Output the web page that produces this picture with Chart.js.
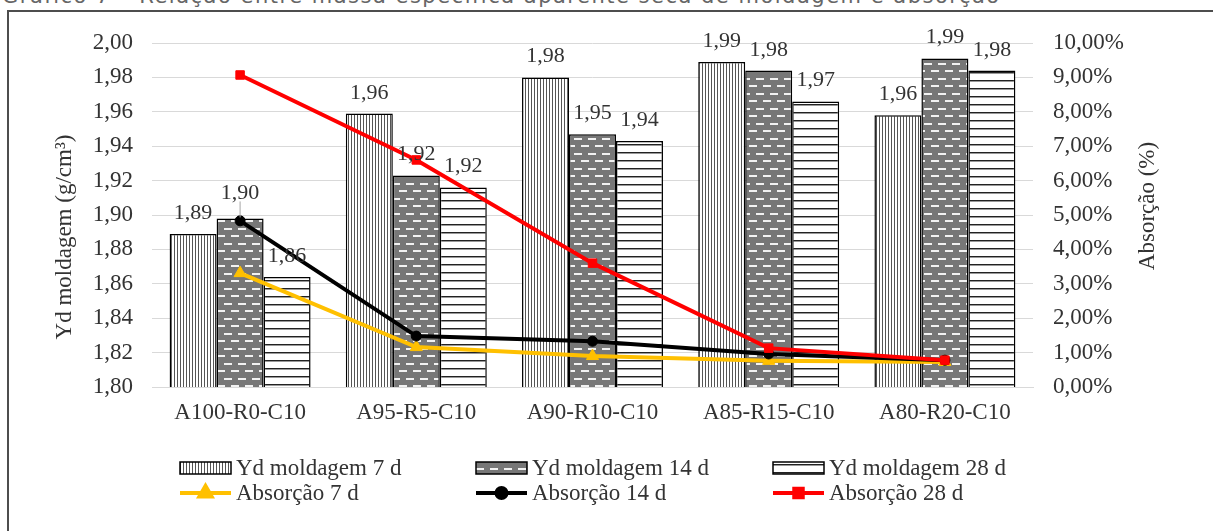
<!DOCTYPE html>
<html lang="pt">
<head>
<meta charset="utf-8">
<script src="https://cdn.jsdelivr.net/npm/chart.js@4.4.1/dist/chart.umd.min.js"></script>
<style>
  html, body { margin: 0; padding: 0; background: #fff; }
  body { width: 1213px; height: 531px; overflow: hidden; position: relative; }
  #titulo { position: absolute; left: 2px; top: -14px; font: 21px "DejaVu Sans"; line-height: 20px; letter-spacing: 1.5px; color: #666; white-space: nowrap; }
  #moldura { position: absolute; left: 7px; top: 10px; width: 1300px; height: 600px; border-left: 2px solid #4d4d4d; border-top: 2px solid #4d4d4d; }
  #grafico { position: absolute; left: 0; top: 0; }
</style>
</head>
<body>
<div id="titulo">Gráfico 7 – Relação entre massa específica aparente seca de moldagem e absorção</div>
<div id="moldura"></div>
<canvas id="grafico" width="1213" height="531"></canvas>
<script>
// Massa específica aparente seca (g/cm³) no eixo da esquerda, absorção (%) no da direita
const categorias = ['A100-R0-C10', 'A95-R5-C10', 'A90-R10-C10', 'A85-R15-C10', 'A80-R20-C10'];
const yd7 = [1.889, 1.959, 1.980, 1.989, 1.958];
const yd14 = [1.898, 1.923, 1.947, 1.984, 1.991];
const yd28 = [1.864, 1.916, 1.943, 1.966, 1.984];
const abs7 = [3.31, 1.16, 0.90, 0.76, 0.73];
const abs14 = [4.83, 1.48, 1.33, 0.96, 0.78];
const abs28 = [9.07, 6.60, 3.60, 1.13, 0.78];
const ticksYd = [1.80, 1.82, 1.84, 1.86, 1.88, 1.90, 1.92, 1.94, 1.96, 1.98, 2.00];
const ticksAbs = [0, 1, 2, 3, 4, 5, 6, 7, 8, 9, 10];

const SERIF = '"Liberation Serif", "Times New Roman", serif';
const TEXTO = '#333333';
const GRADE = '#d9d9d9';

const virgula = (v) => Number(v).toFixed(2).replace('.', ',');

function tile(w, h, desenha) {
  const c = document.createElement('canvas');
  c.width = w;
  c.height = h;
  desenha(c.getContext('2d'));
  return c.getContext('2d').createPattern(c, 'repeat');
}

// listras verticais (7 d), traços brancos sobre cinza (14 d), listras horizontais (28 d)
const padrao7 = tile(3, 4, (g) => {
  g.fillStyle = '#fff'; g.fillRect(0, 0, 3, 4);
  g.fillStyle = '#555'; g.fillRect(0, 0, 1, 4);
});
const padrao14 = tile(14, 15, (g) => {
  g.fillStyle = '#777'; g.fillRect(0, 0, 14, 15);
  g.fillStyle = '#f2f2f2';
  g.fillRect(0, 3, 8, 2);
  g.fillRect(7, 10, 8, 2);
  g.fillRect(-7, 10, 8, 2);
});
const padrao28 = tile(4, 8, (g) => {
  g.fillStyle = '#fff'; g.fillRect(0, 0, 4, 8);
  g.fillStyle = '#222'; g.fillRect(0, 0, 4, 1);
  g.fillStyle = '#999'; g.fillRect(0, 1, 4, 1);
});

const barra = (label, data, padrao) => ({
  label, data, backgroundColor: padrao, borderColor: '#000', borderWidth: 1.5,
  categoryPercentage: 0.8, barPercentage: 1.0, yAxisID: 'y', order: 4,
});
const linha = (label, data, cor, estilo, raio, ordem) => ({
  type: 'line', label, data, borderColor: cor, backgroundColor: cor, borderWidth: 4,
  pointStyle: estilo, pointRadius: raio, pointBorderWidth: 1, tension: 0, yAxisID: 'y1', order: ordem,
});

// rótulos de dados acima das barras
const rotulos = {
  id: 'rotulos',
  afterDatasetsDraw(chart, args, opts) {
    const ctx = chart.ctx;
    ctx.save();
    ctx.font = opts.font;
    ctx.fillStyle = TEXTO;
    ctx.textAlign = 'center';
    ctx.textBaseline = 'alphabetic';
    chart.data.datasets.forEach((ds, i) => {
      const meta = chart.getDatasetMeta(i);
      if (meta.type !== 'bar') return;
      meta.data.forEach((b, j) => {
        const lift = opts.lift[i + ':' + j] || 0;
        const y = b.y - opts.gap - lift;
        ctx.fillText(virgula(ds.data[j]), b.x, y);
        if (lift) {
          ctx.strokeStyle = '#a6a6a6';
          ctx.lineWidth = 1;
          ctx.beginPath();
          ctx.moveTo(b.x, y + 2);
          ctx.lineTo(b.x, b.y - 1);
          ctx.stroke();
        }
      });
    });
    ctx.restore();
  },
};

// títulos dos eixos e legenda em 3 colunas
const extras = {
  id: 'extras',
  afterDraw(chart, args, opts) {
    const ctx = chart.ctx;
    ctx.save();
    ctx.font = opts.font;
    ctx.fillStyle = TEXTO;
    ctx.textAlign = 'center';
    ctx.textBaseline = 'middle';
    opts.titulos.forEach((t) => {
      ctx.save();
      ctx.translate(t.x, t.y);
      ctx.rotate(-Math.PI / 2);
      ctx.fillText(t.texto, 0, 0);
      ctx.restore();
    });

    const ds = chart.data.datasets;
    ctx.textAlign = 'left';
    opts.itens.forEach((idx, k) => {
      const d = ds[idx];
      const x = opts.colunas[k % 3];
      const y = opts.linhas[Math.floor(k / 3)];
      const w = opts.largura;
      if (d.type === 'line') {
        ctx.strokeStyle = d.borderColor;
        ctx.lineWidth = d.borderWidth;
        ctx.beginPath();
        ctx.moveTo(x, y);
        ctx.lineTo(x + w, y);
        ctx.stroke();
        ctx.fillStyle = d.backgroundColor;
        Chart.helpers.drawPoint(ctx, { pointStyle: d.pointStyle, radius: d.pointRadius, rotation: 0, borderWidth: 1 }, x + w / 2, y);
      } else {
        ctx.fillStyle = d.backgroundColor;
        ctx.fillRect(x, y - 6, w, 12);
        ctx.strokeStyle = '#000';
        ctx.lineWidth = 1.5;
        ctx.strokeRect(x, y - 6, w, 12);
      }
      ctx.fillStyle = TEXTO;
      ctx.fillText(d.label, x + w + 5, y + 1);
    });
    ctx.restore();
  },
};

new Chart(document.getElementById('grafico'), {
  type: 'bar',
  data: {
    labels: categorias,
    datasets: [
      barra('Yd moldagem 7 d', yd7, padrao7),
      barra('Yd moldagem 14 d', yd14, padrao14),
      barra('Yd moldagem 28 d', yd28, padrao28),
      linha('Absorção 7 d', abs7, '#ffc000', 'triangle', 7, 2),
      linha('Absorção 14 d', abs14, '#000000', 'circle', 5, 1),
      linha('Absorção 28 d', abs28, '#ff0000', 'rect', 6, 0),
    ],
  },
  plugins: [rotulos, extras],
  options: {
    responsive: false,
    animation: false,
    events: [],
    layout: { padding: { left: 0, right: 0, top: 43, bottom: 104 } },
    plugins: {
      legend: { display: false },
      tooltip: { enabled: false },
      rotulos: { font: '22px ' + SERIF, gap: 15, lift: { '1:0': 4 } },
      extras: {
        font: '23px ' + SERIF,
        titulos: [
          { texto: 'Yd moldagem (g/cm³)', x: 65, y: 237 },
          { texto: 'Absorção (%)', x: 1148, y: 206 },
        ],
        itens: [0, 1, 2, 3, 4, 5],
        colunas: [180, 476, 773],
        linhas: [468, 493],
        largura: 51,
      },
    },
    scales: {
      x: {
        grid: { display: false, drawTicks: false },
        border: { display: true, color: GRADE, width: 1 },
        ticks: { font: { family: SERIF, size: 23 }, color: TEXTO, padding: 12, maxRotation: 0, autoSkip: false },
        afterFit: (s) => { s.height = 40; },
      },
      y: {
        position: 'left',
        min: 1.8,
        max: 2.0,
        afterBuildTicks: (s) => { s.ticks = ticksYd.map((v) => ({ value: v })); },
        ticks: { callback: (v) => virgula(v), font: { family: SERIF, size: 23 }, color: TEXTO, padding: 19 },
        grid: { color: GRADE, lineWidth: 1, drawTicks: false },
        border: { display: false },
        afterFit: (s) => { s.width = 152; },
      },
      y1: {
        position: 'right',
        min: 0,
        max: 10,
        afterBuildTicks: (s) => { s.ticks = ticksAbs.map((v) => ({ value: v })); },
        ticks: { callback: (v) => virgula(v) + '%', font: { family: SERIF, size: 23 }, color: TEXTO, padding: 20 },
        grid: { display: false, drawTicks: false },
        border: { display: false },
        afterFit: (s) => { s.width = 180; },
      },
    },
  },
});
</script>
</body>
</html>
